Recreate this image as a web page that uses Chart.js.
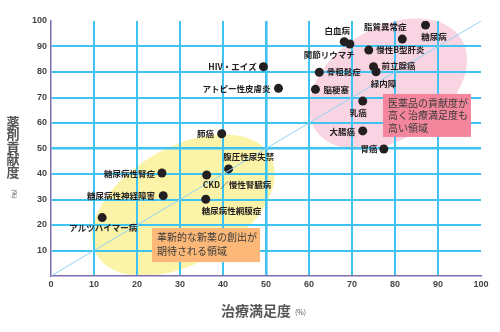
<!DOCTYPE html>
<html>
<head>
<meta charset="utf-8">
<script src="https://cdn.jsdelivr.net/npm/chart.js@4"></script>
<style>
  html, body { margin: 0; padding: 0; background: #fff; }
  #chart { display: block; }
</style>
</head>
<body>
<canvas id="chart" width="500" height="332"></canvas>
<script>
// 疾患ごとの 治療満足度(x) / 薬剤貢献度(y)
const diseases = [
  '脂質異常症', '糖尿病', '白血病', '関節リウマチ', '慢性B型肝炎',
  '前立腺癌', '緑内障', '骨粗鬆症', '脳梗塞', '乳癌', '大腸癌', '胃癌',
  'HIV・エイズ', 'アトピー性皮膚炎', '肺癌', '腹圧性尿失禁', 'CKD／慢性腎臓病',
  '糖尿病性腎症', '糖尿病性神経障害', '糖尿病性網膜症', 'アルツハイマー病'
];
const satisfaction = [87.1, 81.7, 68.2, 69.5, 73.9, 75.0, 75.6, 62.4, 61.5, 72.5, 72.5, 77.4,
  49.4, 52.9, 39.7, 41.3, 36.2, 25.8, 26.1, 36.0, 11.9];
const contribution = [98.4, 92.9, 91.9, 91.0, 88.6, 82.1, 80.1, 79.9, 73.2, 68.6, 56.9, 49.8,
  82.1, 73.6, 55.8, 42.0, 39.6, 40.4, 31.5, 30.1, 22.9];
const axisTicks = [0, 10, 20, 30, 40, 50, 60, 70, 80, 90, 100];

// ラベルの置き方 (dx, dy, 揃え) ※位置はピクセル
const labelPlace = [
  [-19, 2, 'right'], [19, -2, 'left'], [-7, -11, 'center'], [5, 11, 'right'], [7.5, 0, 'left'],
  [8, -1, 'left'], [7.5, 12, 'center'], [7.5, 0, 'left'], [8, 0.5, 'left'], [-4.4, 12, 'center'],
  [-7.7, 0.5, 'right'], [-6.4, 0, 'right'], [-6.6, 0.5, 'right'], [-8, 0, 'right'], [-7.7, 0.5, 'right'],
  [-5.4, -12.3, 'left'], [-4, 9.3, 'left'], [-7, 0.5, 'right'], [-8.3, 0.5, 'right'], [-4, 11.4, 'left'],
  [1, 10.6, 'center']
];

const points = diseases.map((d, i) => ({ x: satisfaction[i], y: contribution[i] }));

const JP = "'Noto Sans CJK JP', 'Noto Sans', sans-serif";

const decor = {
  id: 'decor',
  beforeDraw(chart) {
    const { ctx, scales: { x, y } } = chart;
    ctx.save();
    // 領域の楕円
    ctx.fillStyle = '#fbf4a8';
    ctx.beginPath();
    ctx.ellipse(x.getPixelForValue(30.8), y.getPixelForValue(27.8), 100, 58, -0.52, 0, Math.PI * 2);
    ctx.fill();
    ctx.fillStyle = '#f9d4e3';
    ctx.beginPath();
    ctx.ellipse(x.getPixelForValue(78.4), y.getPixelForValue(75.3), 86, 56, -0.55, 0, Math.PI * 2);
    ctx.fill();
    ctx.restore();
  },
  afterDraw(chart) {
    const { ctx, scales: { x, y } } = chart;
    ctx.save();
    // 説明ボックス
    let bx = x.getPixelForValue(77.2), by = y.getPixelForValue(71.4);
    ctx.fillStyle = '#f3869c';
    ctx.fillRect(bx, by, 88, 43);
    ctx.fillStyle = '#3a3a3a';
    ctx.font = '10px ' + JP;
    ctx.textBaseline = 'middle';
    ctx.textAlign = 'left';
    ['医薬品の貢献度が', '高く治療満足度も', '高い領域'].forEach((t, i) => ctx.fillText(t, bx + 5, by + 9 + i * 12.5));

    bx = x.getPixelForValue(23.5); by = y.getPixelForValue(18.8);
    ctx.fillStyle = '#fbb878';
    ctx.fillRect(bx, by, 108, 34);
    ctx.fillStyle = '#3a3a3a';
    ['革新的な新薬の創出が', '期待される領域'].forEach((t, i) => ctx.fillText(t, bx + 5, by + 9 + i * 14));

    // 点のラベル
    const meta = chart.getDatasetMeta(1);
    ctx.font = 'bold 8.5px ' + JP;
    ctx.fillStyle = '#231f20';
    meta.data.forEach((pt, i) => {
      const [dx, dy, al] = labelPlace[i];
      ctx.textAlign = al;
      ctx.fillText(diseases[i], pt.x + dx, pt.y + dy);
    });

    // 軸タイトル
    ctx.fillStyle = '#555';
    ctx.font = 'bold 13px ' + JP;
    ctx.textAlign = 'center';
    '薬剤貢献度'.split('').forEach((c, i) => ctx.fillText(c, 13, 122 + i * 12.5));
    ctx.save();
    ctx.translate(14, 194);
    ctx.rotate(Math.PI / 2);
    ctx.font = '6px ' + JP;
    ctx.fillText('(%)', 0, 0);
    ctx.restore();

    ctx.font = 'bold 14px ' + JP;
    ctx.textAlign = 'left';
    ctx.fillText('治療満足度', 221, 311);
    ctx.font = '7px ' + JP;
    ctx.fillText('(%)', 295, 312);
    ctx.restore();
  }
};

const gridColor = (ctx) => (ctx.tick && (ctx.tick.value === 0 || ctx.tick.value === 100)) ? 'rgba(0,0,0,0)' : '#3fc3f1';
const gridWidth = (ctx) => (ctx.tick && ctx.tick.value === 50) ? 2.6 : 2;
const tickFont = { family: 'Liberation Sans', size: 9, weight: 'bold' };

new Chart(document.getElementById('chart'), {
  type: 'scatter',
  data: {
    datasets: [
      {
        type: 'line',
        data: [{ x: 0, y: 0 }, { x: 100, y: 100 }],
        borderColor: '#8fd4f4',
        borderWidth: 1,
        pointRadius: 0
      },
      {
        data: points,
        backgroundColor: '#231f20',
        borderWidth: 0,
        pointRadius: 4.5
      }
    ]
  },
  options: {
    responsive: false,
    animation: false,
    layout: { padding: { top: 21, right: 19, left: 0, bottom: 0 } },
    plugins: { legend: { display: false }, tooltip: { enabled: false } },
    scales: {
      x: {
        type: 'linear', min: 0, max: 100,
        afterBuildTicks: (s) => { s.ticks = axisTicks.map(v => ({ value: v })); },
        grid: { color: gridColor, lineWidth: gridWidth, drawTicks: false },
        border: { color: '#7d6db3', width: 1.5 },
        ticks: { color: '#444', font: tickFont, padding: 3, maxRotation: 0 },
        afterFit: (s) => { s.height = 56; }
      },
      y: {
        type: 'linear', min: 0, max: 100,
        afterBuildTicks: (s) => { s.ticks = axisTicks.filter(v => v > 0).map(v => ({ value: v })); },
        grid: { color: gridColor, lineWidth: gridWidth, drawTicks: false },
        border: { color: '#7d6db3', width: 1.5 },
        ticks: { color: '#444', font: tickFont, padding: 4 },
        afterFit: (s) => { s.width = 51; }
      }
    }
  },
  plugins: [decor]
});
</script>
</body>
</html>
